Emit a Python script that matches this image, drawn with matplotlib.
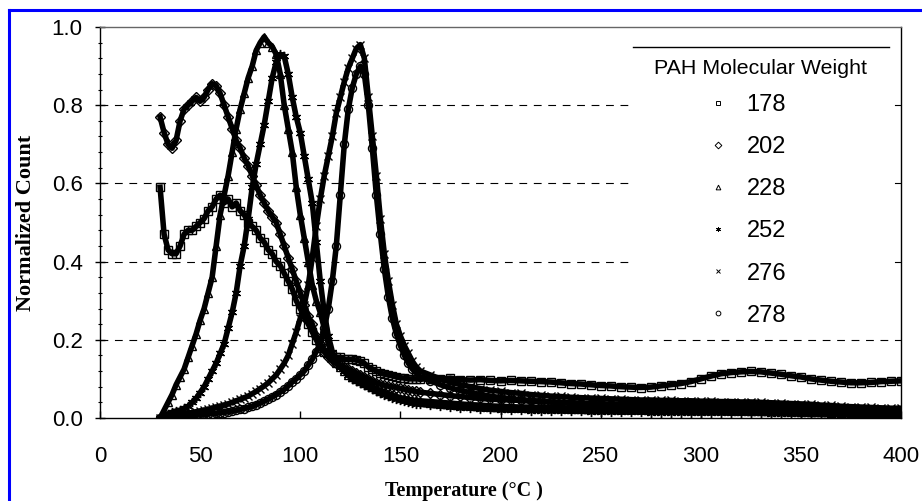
import matplotlib
matplotlib.use("Agg")
import matplotlib.pyplot as plt
from matplotlib.lines import Line2D
from matplotlib.patches import Rectangle
from matplotlib.ticker import MultipleLocator

# ---------------- data ----------------
TEMP_PEAK = [30, 32, 34, 36, 38, 40, 42, 44, 46, 48, 50, 52, 54, 56, 58, 60, 62, 64, 66, 68,
             70, 72, 74, 76, 78, 80, 82, 84, 86, 88, 90, 92, 94, 96, 98, 100, 102, 104, 106, 108,
             110, 112, 114, 116, 118, 120, 122, 124, 126, 128, 130, 132, 134, 136, 138, 140, 142,
             144, 146, 148, 150, 152, 154, 156, 158, 160]
TEMP_TAIL = [165, 170, 175, 180, 185, 190, 195, 200, 205, 210, 215, 220, 225, 230, 235, 240,
             245, 250, 255, 260, 265, 270, 275, 280, 285, 290, 295, 300, 305, 310, 315, 320,
             325, 330, 335, 340, 345, 350, 355, 360, 365, 370, 375, 380, 385, 390, 395, 400]
TEMPERATURE = TEMP_PEAK + TEMP_TAIL

count_178 = [0.59, 0.47, 0.43, 0.42, 0.42, 0.44, 0.47, 0.48, 0.48, 0.49, 0.50, 0.51, 0.53, 0.54, 0.56, 0.57, 0.55, 0.56, 0.54, 0.55,
             0.53, 0.52, 0.50, 0.49, 0.48, 0.46, 0.45, 0.43, 0.42, 0.40, 0.39, 0.37, 0.35, 0.33, 0.30, 0.28, 0.26, 0.24, 0.22, 0.20,
             0.18, 0.17, 0.165, 0.16, 0.155, 0.155, 0.15, 0.15, 0.15, 0.148, 0.145, 0.14, 0.13, 0.125, 0.12, 0.115, 0.112,
             0.11, 0.108, 0.105, 0.103, 0.102, 0.10, 0.10, 0.10, 0.10] + \
            [0.10, 0.10, 0.102, 0.098, 0.097, 0.098, 0.096, 0.095, 0.096, 0.095, 0.094, 0.093, 0.092, 0.09, 0.088, 0.087,
             0.085, 0.083, 0.082, 0.08, 0.079, 0.078, 0.079, 0.082, 0.085, 0.088, 0.093, 0.10, 0.107, 0.113, 0.116, 0.118,
             0.119, 0.118, 0.115, 0.112, 0.108, 0.105, 0.10, 0.097, 0.094, 0.092, 0.09, 0.09, 0.091, 0.093, 0.094, 0.095]

count_202 = [0.77, 0.73, 0.70, 0.69, 0.71, 0.76, 0.79, 0.80, 0.81, 0.82, 0.81, 0.82, 0.84, 0.855, 0.85, 0.83, 0.80, 0.77, 0.74, 0.71,
             0.69, 0.665, 0.645, 0.62, 0.595, 0.57, 0.55, 0.53, 0.515, 0.50, 0.47, 0.44, 0.41, 0.38, 0.35, 0.32, 0.29, 0.26, 0.24, 0.21,
             0.19, 0.17, 0.155, 0.145, 0.14, 0.135, 0.13, 0.125, 0.12, 0.115, 0.11, 0.105, 0.10, 0.095, 0.09, 0.087, 0.084,
             0.082, 0.08, 0.078, 0.076, 0.074, 0.072, 0.07, 0.068, 0.066] + \
            [0.063, 0.06, 0.057, 0.055, 0.052, 0.05, 0.048, 0.047, 0.046, 0.045, 0.043, 0.042, 0.041, 0.04, 0.039, 0.038,
             0.037, 0.036, 0.036, 0.035, 0.035, 0.034, 0.034, 0.033, 0.033, 0.032, 0.032, 0.031, 0.031, 0.03, 0.03, 0.03,
             0.029, 0.028, 0.027, 0.026, 0.025, 0.024, 0.023, 0.022, 0.021, 0.02, 0.019, 0.018, 0.018, 0.017, 0.017, 0.016]

count_228 = [0.0, 0.02, 0.04, 0.06, 0.085, 0.105, 0.125, 0.155, 0.185, 0.215, 0.25, 0.28, 0.32, 0.36, 0.44, 0.52, 0.57, 0.62, 0.68, 0.74,
             0.79, 0.83, 0.87, 0.90, 0.94, 0.96, 0.975, 0.96, 0.95, 0.93, 0.88, 0.80, 0.74, 0.68, 0.59, 0.52, 0.46, 0.40, 0.34, 0.30,
             0.27, 0.23, 0.19, 0.16, 0.14, 0.13, 0.12, 0.11, 0.105, 0.10, 0.095, 0.09, 0.085, 0.08, 0.075, 0.07, 0.066,
             0.062, 0.058, 0.055, 0.052, 0.05, 0.048, 0.046, 0.045, 0.044] + \
            [0.042, 0.04, 0.038, 0.036, 0.034, 0.033, 0.031, 0.03, 0.029, 0.028, 0.028, 0.027, 0.027, 0.026, 0.026, 0.025,
             0.025, 0.024, 0.024, 0.023, 0.023, 0.022, 0.022, 0.022, 0.021, 0.021, 0.02, 0.02, 0.02, 0.02, 0.02, 0.02,
             0.019, 0.019, 0.018, 0.018, 0.017, 0.016, 0.016, 0.015, 0.014, 0.013, 0.013, 0.012, 0.012, 0.011, 0.011, 0.01]

count_252 = [0.0, 0.005, 0.01, 0.015, 0.018, 0.02, 0.025, 0.03, 0.04, 0.05, 0.065, 0.08, 0.10, 0.12, 0.14, 0.165, 0.19, 0.23, 0.27, 0.32,
             0.39, 0.44, 0.51, 0.59, 0.65, 0.70, 0.75, 0.81, 0.87, 0.91, 0.93, 0.925, 0.88, 0.82, 0.77, 0.73, 0.67, 0.61, 0.55, 0.45,
             0.35, 0.27, 0.21, 0.17, 0.145, 0.13, 0.12, 0.11, 0.10, 0.095, 0.09, 0.085, 0.08, 0.075, 0.07, 0.065, 0.06,
             0.056, 0.052, 0.049, 0.046, 0.043, 0.04, 0.038, 0.036, 0.035] + \
            [0.032, 0.03, 0.028, 0.026, 0.025, 0.023, 0.022, 0.021, 0.02, 0.02, 0.019, 0.019, 0.018, 0.018, 0.017, 0.017,
             0.016, 0.016, 0.016, 0.015, 0.015, 0.015, 0.014, 0.014, 0.014, 0.014, 0.013, 0.013, 0.013, 0.013, 0.012, 0.012,
             0.012, 0.012, 0.011, 0.011, 0.01, 0.01, 0.009, 0.009, 0.008, 0.008, 0.007, 0.007, 0.007, 0.006, 0.006, 0.006]

count_276 = [0.0, 0.0, 0.002, 0.004, 0.006, 0.008, 0.01, 0.012, 0.014, 0.016, 0.018, 0.02, 0.022, 0.025, 0.028, 0.03, 0.033, 0.036, 0.04, 0.044,
             0.048, 0.052, 0.056, 0.062, 0.068, 0.075, 0.082, 0.09, 0.10, 0.11, 0.125, 0.14, 0.16, 0.19, 0.22, 0.255, 0.29, 0.34, 0.41, 0.49,
             0.56, 0.62, 0.67, 0.72, 0.78, 0.82, 0.86, 0.895, 0.92, 0.945, 0.955, 0.92, 0.82, 0.72, 0.62, 0.51, 0.42,
             0.35, 0.29, 0.24, 0.21, 0.185, 0.165, 0.145, 0.13, 0.12] + \
            [0.11, 0.1, 0.092, 0.085, 0.08, 0.075, 0.071, 0.068, 0.065, 0.063, 0.06, 0.058, 0.056, 0.055, 0.053, 0.052,
             0.051, 0.05, 0.049, 0.048, 0.047, 0.046, 0.046, 0.045, 0.045, 0.044, 0.044, 0.043, 0.043, 0.042, 0.042, 0.041,
             0.041, 0.04, 0.039, 0.038, 0.037, 0.036, 0.035, 0.033, 0.032, 0.03, 0.029, 0.028, 0.027, 0.026, 0.025, 0.025]

count_278 = [0.0, 0.0, 0.0, 0.001, 0.002, 0.003, 0.004, 0.005, 0.006, 0.007, 0.008, 0.009, 0.01, 0.011, 0.012, 0.013, 0.014, 0.016, 0.018, 0.02,
             0.022, 0.024, 0.027, 0.03, 0.034, 0.038, 0.043, 0.048, 0.054, 0.06, 0.066, 0.073, 0.082, 0.092, 0.10, 0.11, 0.12, 0.135, 0.15, 0.17,
             0.19, 0.23, 0.28, 0.35, 0.44, 0.57, 0.70, 0.79, 0.845, 0.88, 0.90, 0.88, 0.80, 0.69, 0.57, 0.47, 0.38,
             0.31, 0.255, 0.215, 0.185, 0.16, 0.14, 0.125, 0.115, 0.105] + \
            [0.095, 0.085, 0.077, 0.07, 0.065, 0.06, 0.056, 0.052, 0.05, 0.047, 0.045, 0.043, 0.041, 0.04, 0.038, 0.037,
             0.035, 0.034, 0.033, 0.032, 0.031, 0.03, 0.029, 0.028, 0.027, 0.026, 0.026, 0.025, 0.025, 0.024, 0.024, 0.023,
             0.023, 0.022, 0.022, 0.021, 0.021, 0.02, 0.019, 0.018, 0.017, 0.016, 0.016, 0.015, 0.015, 0.014, 0.014, 0.013]

SERIES_LABELS = ["178", "202", "228", "252", "276", "278"]
SERIES_VALUES = [count_178, count_202, count_228, count_252, count_276, count_278]
SERIES_MARKERS = ["s", "D", "^", (6, 2, 0), "x", "o"]
SERIES_MSIZE = [5.8, 5.4, 6.2, 6.6, 6.2, 5.8]

X_TICKS = [0, 50, 100, 150, 200, 250, 300, 350, 400]
Y_TICKS = [0.0, 0.2, 0.4, 0.6, 0.8, 1.0]
GRID_LEVELS = [0.2, 0.4, 0.6, 0.8]
LEGEND_TITLE = "PAH Molecular Weight"

# ---------------- figure ----------------
W, H = 922, 501
fig = plt.figure(figsize=(W / 100, H / 100), dpi=100)
L, R, T, B = 100, 901, 27, 418
ax = fig.add_axes([L / W, 1 - B / H, (R - L) / W, (B - T) / H])
ax.set_xlim(0, 400)
ax.set_ylim(0, 1.0)

sans = "Liberation Sans"
serif = "Liberation Serif"

for lvl in GRID_LEVELS:
    ax.axhline(lvl, color="black", lw=0.8, ls=(0, (7, 6)), zorder=1)

for lab, vals, mk, ms in zip(SERIES_LABELS, SERIES_VALUES, SERIES_MARKERS, SERIES_MSIZE):
    ax.plot(TEMPERATURE, vals, color="black", lw=4.0, zorder=3, solid_joinstyle="round")
    ax.plot(TEMPERATURE, vals, ls="none", marker=mk, ms=ms, mec="black", mfc="none",
            mew=1.0, zorder=4)

# legend background, rule and title
ax.add_patch(Rectangle((0.665, 0.212), 0.321, 0.737, transform=ax.transAxes,
                       facecolor="white", edgecolor="none", zorder=2))
ax.add_line(Line2D([0.665, 0.985], [0.949, 0.949], transform=ax.transAxes,
                   color="black", lw=1.0, zorder=6))
ax.text(0.824, 0.893, LEGEND_TITLE, transform=ax.transAxes, ha="center", va="center",
        fontfamily=sans, fontsize=15.4, zorder=7)

handles = [Line2D([], [], ls="none", marker=mk, ms=3.4, mec="black", mfc="white", mew=0.7)
           for mk in SERIES_MARKERS]
leg = ax.legend(handles, SERIES_LABELS, loc="upper left", bbox_to_anchor=(0.760, 0.828),
                frameon=False, prop={"family": sans, "size": 17}, labelspacing=0.85,
                handlelength=0.8, handletextpad=0.8, borderpad=0.0, borderaxespad=0.0)
leg.set_zorder(7)

# axes styling
for s in ax.spines.values():
    s.set_linewidth(1.0)
    s.set_color("black")
ax.spines["top"].set_color("#666666")

ax.set_xticks(X_TICKS)
ax.set_yticks(Y_TICKS)
ax.set_xticklabels([str(v) for v in X_TICKS])
ax.set_yticklabels([f"{v:.1f}" for v in Y_TICKS])
ax.yaxis.set_minor_locator(MultipleLocator(0.04))
ax.tick_params(axis="x", which="major", direction="in", length=5, width=1, pad=20,
               labelsize=16, top=False)
ax.tick_params(axis="y", which="major", direction="inout", length=7, width=1, pad=9,
               labelsize=16, right=False)
ax.tick_params(axis="y", which="minor", direction="inout", length=3, width=0.8, right=False)
for lbl in ax.get_xticklabels() + ax.get_yticklabels():
    lbl.set_fontfamily(sans)

ax.set_xlabel("Temperature (°C )", fontfamily=serif, fontweight="bold", fontsize=14.5)
ax.set_ylabel("Normalized Count", fontfamily=serif, fontweight="bold", fontsize=16)
ax.xaxis.set_label_coords(0.454, -0.162)
ax.yaxis.set_label_coords(-0.080, 0.5)

# blue frame (left and top)
fig.add_artist(Line2D([8.5 / W, 8.5 / W], [0, 1 - 10 / H], transform=fig.transFigure,
                      color="#0000ff", lw=2.2))
fig.add_artist(Line2D([8.5 / W, 1], [1 - 10 / H, 1 - 10 / H], transform=fig.transFigure,
                      color="#0000ff", lw=2.2))

fig.savefig("out.png", dpi=100)
